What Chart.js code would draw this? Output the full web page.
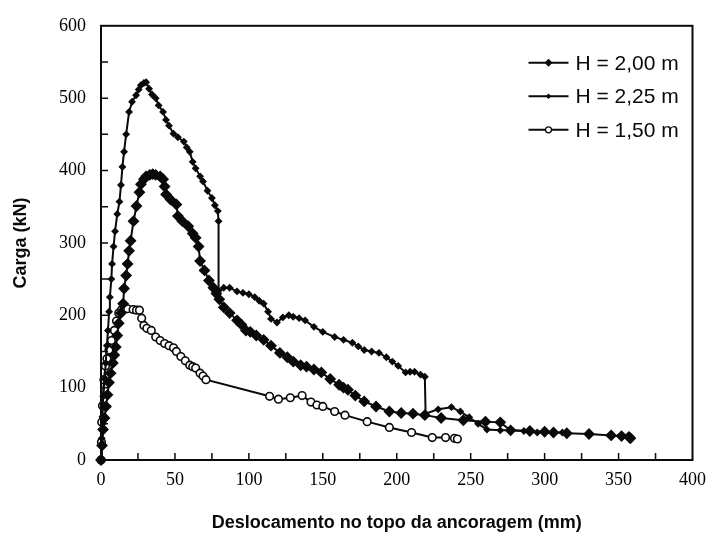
<!DOCTYPE html>
<html>
<head>
<meta charset="utf-8">
<script src="https://cdn.jsdelivr.net/npm/chart.js@4.4.1/dist/chart.umd.min.js"></script>
<style>
  body { margin: 0; background: #fff; }
  canvas { display: block; }
</style>
</head>
<body>
<canvas id="chart" width="715" height="535"></canvas>
<script>
"use strict";

// values (mm, kN)
const xTicks = [0, 50, 100, 150, 200, 250, 300, 350, 400];
const yTicks = [0, 100, 200, 300, 400, 500, 600];

const seriesLabels = ["H = 2,00 m", "H = 2,25 m", "H = 1,50 m"];

const h200X = [0, 0.7, 1.4, 2.4, 3.4, 4.4, 5.4, 6.5, 8, 9, 10, 11, 12, 13.5, 15, 15.6, 17, 18, 19, 20, 22, 24, 26, 27, 29, 30.5, 33, 35, 37, 40, 42, 43, 44, 47, 51, 52, 55, 59, 62, 64, 66, 67, 70, 73, 76, 78, 80, 83, 87, 92, 95, 98, 101, 105, 110, 115, 121, 126, 130, 135, 139, 144, 149, 155, 161, 164, 167, 172, 178, 186, 195, 203, 211, 219, 230, 245, 260, 270, 277, 290, 300, 306, 315, 330, 345, 352, 357, 358];
const h200Y = [0, 20, 42, 58, 74, 90, 107, 120, 134, 145, 156, 172, 189, 203, 216, 237, 255, 271, 289, 303, 330, 351, 370, 381, 388, 392, 394, 395, 394, 392, 388, 378, 367, 360, 353, 337, 330, 323, 313, 307, 295, 275, 262, 248, 238, 230, 222, 211, 203, 193, 187, 179, 177, 172, 166, 158, 148, 142, 136, 131, 129, 125, 121, 112, 104, 100, 97, 89, 81, 74, 67, 65, 64, 62, 58, 55, 53, 52, 41, 40, 39, 38, 37, 36, 34, 33, 32, 30];

const h225X = [0, 0.5, 1, 1.5, 2.5, 3.2, 4, 4.7, 5.5, 6, 7, 7.5, 8.5, 9.5, 11, 12.5, 13.5, 14.5, 15.6, 17, 19, 21, 23.7, 25.5, 27, 29, 30.5, 32.5, 34.5, 37, 39, 42, 44, 46, 49, 52, 56, 58, 60, 62, 64, 67, 69, 72, 75, 77, 79, 79.5, 79.5, 83, 87, 92, 96, 100, 104, 107, 110, 113, 115, 119, 123, 127, 130, 134, 138, 144, 150, 158, 164, 170, 174, 178, 183, 188, 193, 197, 201, 206, 209, 212, 216, 219, 219.5, 228, 237, 243, 249, 255, 261, 270, 277, 286, 295, 306, 312];
const h225Y = [0, 30, 60, 88, 112, 134, 158, 179, 205, 225, 250, 271, 295, 316, 340, 357, 380, 405, 426, 450, 481, 495, 504, 512, 518, 521, 522, 513, 505, 500, 490, 481, 470, 462, 451, 446, 440, 432, 426, 412, 403, 392, 385, 372, 362, 352, 344, 330, 234, 238, 238, 233, 231, 229, 225, 220, 216, 205, 195, 190, 197, 200, 198, 196, 193, 184, 177, 170, 166, 162, 157, 152, 150, 148, 142, 136, 130, 121, 122, 122, 118, 115, 64, 70, 73, 67, 59, 50, 42, 41, 41, 40, 38, 38, 38];

const h150X = [0, 0.3, 0.5, 1, 2, 3, 4, 5.4, 7, 9, 10.5, 12, 14, 15.6, 18, 21.7, 24, 26, 27.5, 29, 31, 34, 37, 40, 43, 46, 49, 51, 54, 57, 60, 62, 64, 67, 69, 71, 114, 120, 128, 136, 142, 146, 150, 158, 165, 180, 195, 210, 224, 233, 239, 241];
const h150Y = [0, 25, 52, 75, 111, 130, 140, 152, 165, 179, 192, 203, 208, 210, 209, 208, 207, 207, 196, 186, 182, 179, 170, 165, 161, 158, 155, 150, 143, 137, 131, 129, 127, 120, 116, 111, 88, 84, 86, 89, 80, 76, 74, 67, 62, 53, 45, 38, 31, 31, 30, 29];

function toPoints(xs, ys) {
  return xs.map((x, i) => ({ x: x, y: ys[i] }));
}

const ink = "#0a0a0a";

const datasets = [
  {
    label: seriesLabels[0],
    data: toPoints(h200X, h200Y),
    pointStyle: "rectRot",
    pointRadius: 4.8,
    backgroundColor: ink,
  },
  {
    label: seriesLabels[1],
    data: toPoints(h225X, h225Y),
    pointStyle: "rectRot",
    pointRadius: 2.8,
    backgroundColor: ink,
  },
  {
    label: seriesLabels[2],
    data: toPoints(h150X, h150Y),
    pointStyle: "circle",
    pointRadius: 3.8,
    backgroundColor: "#fff",
  },
].map(ds => Object.assign({
  showLine: true,
  borderColor: ink,
  borderWidth: 2,
  pointBorderColor: ink,
  pointBorderWidth: 1.6,
  pointHoverRadius: 0,
  tension: 0,
  clip: false,
}, ds));

// frame, inward ticks and the legend box in the upper right
const decorations = {
  id: "decorations",
  afterDraw(chart) {
    const ctx = chart.ctx;
    const area = chart.chartArea;
    const xs = chart.scales.x;
    const ys = chart.scales.y;
    ctx.save();
    ctx.strokeStyle = ink;
    ctx.lineWidth = 2;
    ctx.strokeRect(area.left, area.top, area.right - area.left, area.bottom - area.top);

    ctx.lineWidth = 1.5;
    ctx.beginPath();
    for (let v = 25; v < 400; v += 25) {
      const px = xs.getPixelForValue(v);
      ctx.moveTo(px, area.bottom);
      ctx.lineTo(px, area.bottom - 7);
    }
    for (let v = 50; v < 600; v += 50) {
      const py = ys.getPixelForValue(v);
      ctx.moveTo(area.left, py);
      ctx.lineTo(area.left + 7, py);
    }
    ctx.stroke();

    // legend
    ctx.font = "21px 'Liberation Sans', Arial, sans-serif";
    ctx.textBaseline = "middle";
    ctx.fillStyle = ink;
    chart.data.datasets.forEach((ds, i) => {
      const y = area.top + 37 + i * 33.5;
      const x0 = area.right - 164;
      const x1 = area.right - 124;
      ctx.lineWidth = 2;
      ctx.beginPath();
      ctx.moveTo(x0, y);
      ctx.lineTo(x1, y);
      ctx.stroke();
      const mx = (x0 + x1) / 2;
      ctx.lineWidth = 1.3;
      ctx.beginPath();
      if (ds.pointStyle === "circle") {
        ctx.arc(mx, y, 3, 0, Math.PI * 2);
        ctx.fillStyle = "#fff";
        ctx.fill();
        ctx.stroke();
      } else {
        const r = i === 0 ? 4 : 2.8;
        ctx.moveTo(mx, y - r);
        ctx.lineTo(mx + r, y);
        ctx.lineTo(mx, y + r);
        ctx.lineTo(mx - r, y);
        ctx.closePath();
        ctx.fillStyle = ink;
        ctx.fill();
      }
      ctx.fillStyle = ink;
      ctx.fillText(ds.label, area.right - 117, y + 1);
    });
    ctx.restore();
  },
};

const tickFont = { family: "'Liberation Serif', 'Times New Roman', serif", size: 18 };
const titleFont = { family: "'Liberation Sans', Arial, sans-serif", size: 18, weight: "bold", lineHeight: 1 };

new Chart(document.getElementById("chart"), {
  type: "scatter",
  data: { datasets: datasets },
  options: {
    responsive: false,
    animation: false,
    events: [],
    layout: { padding: { top: 23, right: 21, left: 0, bottom: 0 } },
    plugins: {
      legend: { display: false },
      tooltip: { enabled: false },
    },
    scales: {
      x: {
        type: "linear",
        min: 0,
        max: 400,
        afterBuildTicks: s => { s.ticks = xTicks.map(v => ({ value: v })); },
        afterFit: s => { s.height = 75; },
        grid: { display: false, drawTicks: false },
        border: { display: false },
        ticks: { color: "#000", font: tickFont, padding: 9, maxRotation: 0 },
        title: {
          display: true,
          text: "Deslocamento no topo da ancoragem (mm)",
          color: ink,
          font: titleFont,
          padding: { top: 0, bottom: 3 },
        },
      },
      y: {
        type: "linear",
        min: 0,
        max: 600,
        afterBuildTicks: s => { s.ticks = yTicks.map(v => ({ value: v })); },
        afterFit: s => { s.width = 101; },
        grid: { display: false, drawTicks: false },
        border: { display: false },
        ticks: { color: "#000", font: tickFont, padding: 15 },
        title: {
          display: true,
          text: "Carga (kN)",
          color: ink,
          font: titleFont,
          padding: { top: 12, bottom: 0 },
        },
      },
    },
  },
  plugins: [decorations],
});
</script>
</body>
</html>
